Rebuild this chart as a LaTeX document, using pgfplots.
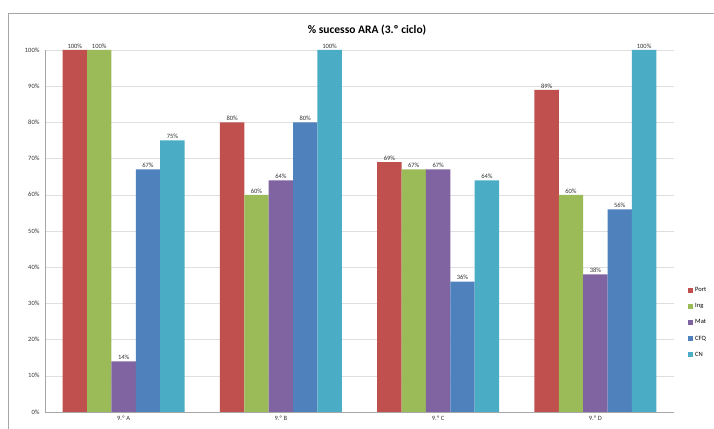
\documentclass[border=0pt]{standalone}
\usepackage{pgfplots}
\pgfplotsset{compat=1.18}
\usepackage{fontspec}
\setmainfont{Carlito}
\definecolor{cPort}{HTML}{C0504D}
\definecolor{cIng}{HTML}{9BBB59}
\definecolor{cMat}{HTML}{8064A2}
\definecolor{cCFQ}{HTML}{4F81BD}
\definecolor{cCN}{HTML}{4BACC6}
\begin{document}
\begin{tikzpicture}
\useasboundingbox (0pt,0pt) rectangle (714pt,428pt);
\clip (0pt,0pt) rectangle (714pt,428pt);
\draw[gray!70, line width=0.8pt] (8pt,-2pt) -- (8pt,415pt) -- (716pt,415pt);
\node[font=\fontsize{11.5}{13}\selectfont\bfseries] at (367pt,398pt) {\% sucesso ARA (3.º ciclo)};
\begin{axis}[
  at={(45pt,16pt)}, anchor=south west,
  scale only axis, width=629pt, height=362pt,
  ybar=0pt, bar width=0.155,
  xmin=-0.5, xmax=3.5, ymin=0, ymax=100,
  xtick={0,1,2,3}, xticklabels={9.º A,9.º B,9.º C,9.º D},
  ytick={0,10,...,100},
  yticklabels={0\%,10\%,20\%,30\%,40\%,50\%,60\%,70\%,80\%,90\%,100\%},
  ymajorgrids, grid style={gray!25},
  axis x line*=bottom, axis y line*=left,
  axis line style={gray!70},
  major tick length=0pt,
  tick label style={font=\fontsize{6.5}{7}\selectfont, text=black!80},
  yticklabel style={xshift=-2pt},
  xticklabel style={yshift=-1pt},
  /pgf/number format/assume math mode=true,
  nodes near coords={\pgfmathprintnumber{\pgfplotspointmeta}\%},
  nodes near coords style={font=\fontsize{6.5}{7}\selectfont, text=black!80, inner sep=1.5pt},
  every axis plot/.append style={draw=none},
  legend style={at={(1,0.247)}, anchor=west, xshift=14pt, draw=none, fill=none,
    font=\fontsize{6.5}{7}\selectfont, row sep=6.5pt, inner sep=0pt},
  legend cell align=left,
  legend image code/.code={\fill (0pt,-2.5pt) rectangle (5pt,2.5pt);},
]
\addplot[fill=cPort] coordinates {(0,100) (1,80) (2,69) (3,89)};
\addplot[fill=cIng] coordinates {(0,100) (1,60) (2,67) (3,60)};
\addplot[fill=cMat] coordinates {(0,14) (1,64) (2,67) (3,38)};
\addplot[fill=cCFQ] coordinates {(0,67) (1,80) (2,36) (3,56)};
\addplot[fill=cCN] coordinates {(0,75) (1,100) (2,64) (3,100)};
\legend{Port,Ing,Mat,CFQ,CN}
\end{axis}
\end{tikzpicture}
\end{document}
